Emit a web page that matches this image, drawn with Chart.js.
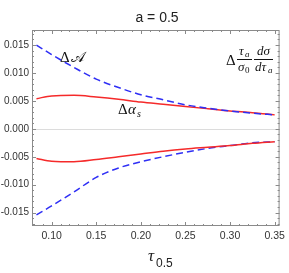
<!DOCTYPE html>
<html>
<head>
<meta charset="utf-8">
<script src="https://cdn.jsdelivr.net/npm/chart.js@4"></script>
<style>
  html, body { margin: 0; padding: 0; background: #fff; }
  #wrap { width: 289px; height: 273px; }
</style>
</head>
<body>
<div id="wrap"><canvas id="chart" width="289" height="273"></canvas></div>
<script>
// Data
const TAU = [0.083, 0.10, 0.125, 0.15, 0.175, 0.20, 0.225, 0.25, 0.275, 0.30, 0.325, 0.35];
const DA_UPPER = [0.0150, 0.0133, 0.0110, 0.0089, 0.0074, 0.0061, 0.0052, 0.0043, 0.0037, 0.0032, 0.0028, 0.0025];
const DALPHA_UPPER = [0.0054, 0.0059, 0.0060, 0.0057, 0.0053, 0.0048, 0.0044, 0.0040, 0.0036, 0.0032, 0.0029, 0.0025];
const DALPHA_LOWER = [-0.0053, -0.0058, -0.0059, -0.0055, -0.0050, -0.0045, -0.0040, -0.0036, -0.0033, -0.0030, -0.0026, -0.0023];
const DA_LOWER = [-0.0154, -0.0138, -0.0113, -0.0087, -0.0070, -0.0059, -0.0050, -0.0042, -0.0035, -0.0030, -0.0025, -0.0023];

const X_TICKS = [0.10, 0.15, 0.20, 0.25, 0.30, 0.35];
const Y_TICKS = [-0.015, -0.010, -0.005, 0.000, 0.005, 0.010, 0.015];

const BLUE = "#2f2ff5";
const RED = "#f52a2a";
const FRAME = "#8a8a8a";

function pts(ys) {
  return TAU.map((x, i) => ({ x: x, y: ys[i] }));
}

function series(ys, color, dashed) {
  return {
    data: pts(ys),
    borderColor: color,
    borderWidth: 1.5,
    borderDash: dashed ? [7, 4] : [],
    pointRadius: 0,
    cubicInterpolationMode: "monotone",
    fill: false,
  };
}

function fixedTicks(list) {
  return (scale) => {
    scale.ticks = list.map((v) => ({ value: v }));
  };
}

// frame, inner ticks, zero line, title, labels
const decorPlugin = {
  id: "decor",
  beforeDatasetsDraw(chart) {
    const { ctx, chartArea: a, scales } = chart;
    const y0 = scales.y.getPixelForValue(0);
    ctx.save();
    ctx.strokeStyle = "#dcdcdc";
    ctx.lineWidth = 1;
    ctx.beginPath();
    ctx.moveTo(a.left, Math.round(y0) + 0.5);
    ctx.lineTo(a.right, Math.round(y0) + 0.5);
    ctx.stroke();
    ctx.restore();
  },
  afterDraw(chart) {
    const { ctx, chartArea: a, scales } = chart;
    ctx.save();
    ctx.strokeStyle = FRAME;
    ctx.lineWidth = 1;
    ctx.strokeRect(a.left + 0.5, a.top + 0.5, a.right - a.left - 1, a.bottom - a.top - 1);

    ctx.beginPath();
    // x ticks: major every 0.05, minor every 0.01
    for (let i = 8; i <= 35; i++) {
      const v = i / 100;
      const px = Math.round(scales.x.getPixelForValue(v)) + 0.5;
      if (px < a.left + 1 || px > a.right - 1) continue;
      const len = i % 5 === 0 ? 4 : 2;
      ctx.moveTo(px, a.bottom);
      ctx.lineTo(px, a.bottom - len);
      ctx.moveTo(px, a.top);
      ctx.lineTo(px, a.top + len);
    }
    // y ticks: major every 0.005, minor every 0.001
    for (let i = -17; i <= 17; i++) {
      const v = i / 1000;
      const py = Math.round(scales.y.getPixelForValue(v)) + 0.5;
      if (py < a.top + 1 || py > a.bottom - 1) continue;
      const len = i % 5 === 0 ? 4 : 2;
      ctx.moveTo(a.left, py);
      ctx.lineTo(a.left + len, py);
      ctx.moveTo(a.right, py);
      ctx.lineTo(a.right - len, py);
    }
    ctx.stroke();

    // title
    ctx.fillStyle = "#222";
    ctx.font = "14px 'Liberation Sans', Arial, sans-serif";
    ctx.textAlign = "center";
    ctx.textBaseline = "alphabetic";
    ctx.fillText("a = 0.5", 157, 22);

    // x axis title: tau_0.5
    ctx.font = "italic 17px 'Liberation Serif', serif";
    ctx.textAlign = "left";
    ctx.fillText("\u03c4", 148, 261);
    ctx.font = "12px 'Liberation Sans', Arial, sans-serif";
    ctx.fillText("0.5", 156, 267);

    // curve labels
    ctx.fillStyle = "#111";
    ctx.font = "15px 'Liberation Serif', serif";
    ctx.fillText("\u0394", 60, 62);
    ctx.font = "15px 'DejaVu Serif', serif";
    ctx.fillText("\ud835\udc9c", 71, 62);

    ctx.font = "15px 'Liberation Serif', serif";
    ctx.fillText("\u0394", 118, 114);
    ctx.font = "italic 15px 'Liberation Serif', serif";
    ctx.fillText("\u03b1", 128, 114);
    ctx.font = "italic 10px 'Liberation Serif', serif";
    ctx.fillText("s", 137, 117);

    // right label: Delta (tau_a / sigma_0)(d sigma / d tau_a)
    ctx.font = "15px 'Liberation Serif', serif";
    ctx.fillText("\u0394", 226, 65);
    ctx.font = "italic 13px 'Liberation Serif', serif";
    ctx.fillText("\u03c4", 239, 55);
    ctx.font = "italic 9px 'Liberation Serif', serif";
    ctx.fillText("a", 245, 57);
    ctx.font = "italic 13px 'Liberation Serif', serif";
    ctx.fillText("\u03c3", 238, 71);
    ctx.font = "9px 'Liberation Serif', serif";
    ctx.fillText("0", 245, 73);
    ctx.font = "italic 13px 'Liberation Serif', serif";
    ctx.fillText("d\u03c3", 257, 55);
    ctx.fillText("d\u03c4", 255, 71);
    ctx.font = "italic 9px 'Liberation Serif', serif";
    ctx.fillText("a", 268, 73);
    ctx.strokeStyle = "#111";
    ctx.beginPath();
    ctx.moveTo(237, 59.5);
    ctx.lineTo(252, 59.5);
    ctx.moveTo(254, 59.5);
    ctx.lineTo(273, 59.5);
    ctx.stroke();
    ctx.restore();
  },
};

const tickFont = { family: "'Liberation Sans', Arial, sans-serif", size: 10 };

new Chart(document.getElementById("chart"), {
  type: "line",
  data: {
    datasets: [
      series(DA_UPPER, BLUE, true),
      series(DALPHA_UPPER, RED, false),
      series(DALPHA_LOWER, RED, false),
      series(DA_LOWER, BLUE, true),
    ],
  },
  options: {
    responsive: false,
    animation: false,
    layout: { padding: { left: 0, right: 5, top: 30, bottom: 0 } },
    plugins: { legend: { display: false }, tooltip: { enabled: false } },
    scales: {
      x: {
        type: "linear",
        min: 0.078,
        max: 0.3555,
        afterBuildTicks: fixedTicks(X_TICKS),
        afterFit: (s) => { s.height = 47; },
        border: { display: false },
        grid: { display: false, drawTicks: false },
        ticks: {
          padding: 4,
          color: "#333",
          font: { family: tickFont.family, size: 10.5 },
          maxRotation: 0,
          autoSkip: false,
          callback: (v) => v.toFixed(2),
        },
      },
      y: {
        type: "linear",
        min: -0.0174,
        max: 0.0177,
        afterBuildTicks: fixedTicks(Y_TICKS),
        afterFit: (s) => { s.width = 32; },
        border: { display: false },
        grid: { display: false, drawTicks: false },
        ticks: {
          padding: 3,
          color: "#333",
          font: tickFont,
          autoSkip: false,
          callback: (v) => v.toFixed(3),
        },
      },
    },
  },
  plugins: [decorPlugin],
});
</script>
</body>
</html>
